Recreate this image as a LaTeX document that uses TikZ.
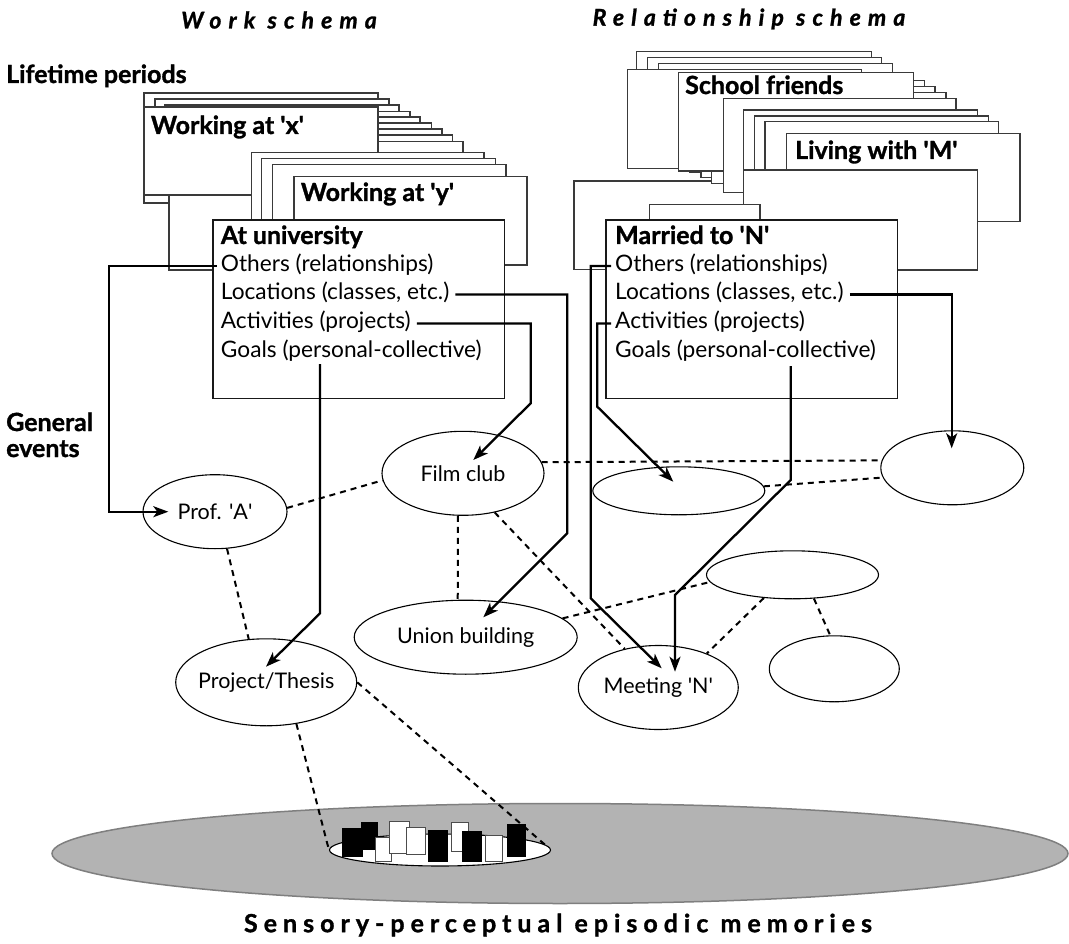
\documentclass[tikz,border=0pt]{standalone}
\usepackage{fontspec}
\setmainfont{Lato}[BoldFeatures={FakeBold=1.2},BoldItalicFeatures={FakeBold=1.2}]
\usetikzlibrary{shapes.geometric,arrows.meta}
\definecolor{cardline}{HTML}{3A3A3A}
\definecolor{greyfill}{HTML}{B3B3B3}
\definecolor{greyline}{HTML}{7F7F7F}
\newcommand{\apo}{\textquotesingle}
\begin{document}
\begin{tikzpicture}[x=1pt,y=-1pt,
  card/.style={draw=cardline,fill=white,line width=1.2pt},
  mainbox/.style={draw=black!90,fill=white,line width=1.6pt},
  ev/.style={ellipse,draw=black,line width=1.1pt,inner sep=0pt},
  evl/.style={font=\fontsize{21.5}{24}\selectfont,inner sep=0pt},
  ln/.style={anchor=west,inner sep=0pt,text height=16pt,text depth=5pt,font=\fontsize{22.7}{26}\selectfont},
  ttl/.style={anchor=west,inner sep=0pt,text height=17pt,text depth=5pt,font=\fontsize{25}{28}\selectfont\bfseries},
  conn/.style={line width=2.3pt,-{Stealth[length=15pt,width=11pt,inset=4pt]}},
  dsh/.style={line width=2pt,dash pattern=on 6pt off 5pt},
  hdr/.style={inner sep=0pt,font=\fontsize{23}{26}\selectfont\bfseries\itshape\addfontfeature{LetterSpace=31}},
  btm/.style={inner sep=0pt,font=\fontsize{25}{28}\selectfont\bfseries\addfontfeature{LetterSpace=24}},
  bar/.style={line width=1pt},
]
\useasboundingbox (0,0) rectangle (1069,944);
\fill[white] (0,0) rectangle (1069,944);

% ---------- left stack (work schema) ----------
\draw[card] (144,93) rectangle (378,203);
\draw[card] (155,99) rectangle (389,194);
\draw[card] (165,105) rectangle (399,194);
\foreach \r/\t/\l in {410/111.7/175, 420/117/180, 431.7/123/185, 442/129/190, 452.7/135/195, 463/141.7/200}
  \draw[card] (\l,\t) rectangle (\r,190);
\draw[card] (169,160) rectangle (400,270);
\draw[card] (144,107) rectangle (378,195);
\draw[card] (251.7,152.7) rectangle (484,250);
\draw[card] (261.7,158.3) rectangle (495.7,250);
\draw[card] (272.7,164.3) rectangle (506,250);
\draw[card] (294,176.7) rectangle (527,265);
\draw[mainbox] (212.7,220) rectangle (504.3,398.3);

\node[ttl] (wx) at (150.7,128) {Working at \apo x\apo};
\node[ttl] (wy) at (300.7,195) {Working at \apo y\apo};
\node[ttl] (uni) at (220.7,238) {At university};
\node[ln] (uOth) at (220.7,266) {Others (relationships)};
\node[ln] (uLoc) at (220.7,294.5) {Locations (classes, etc.)};
\node[ln] (uAct) at (220.7,323.5) {Activities (projects)};
\node[ln] (uGoal) at (220.7,352) {Goals (personal-collective)};

% ---------- right stack (relationship schema) ----------
\draw[card] (636.7,51.7) rectangle (871.7,160);
\draw[card] (647.3,57.3) rectangle (881.7,160);
\draw[card] (658.3,63.3) rectangle (892.3,160);
\draw[card] (627.7,69.3) rectangle (861.7,168.3);
\draw[card] (574,181) rectangle (800,269.3);
\draw[card] (690,80.7) rectangle (924.3,172.7);
\draw[card] (701,86.7) rectangle (935,177.3);
\draw[card] (711.7,92.7) rectangle (946,183.3);
\draw[card] (678.3,72.3) rectangle (913.3,171);
\draw[card] (723.3,98.3) rectangle (956,192.7);
\draw[card] (743.3,110) rectangle (977.7,200);
\draw[card] (754.3,116) rectangle (988.3,200);
\draw[card] (765,121.7) rectangle (998.3,200);
\draw[card] (786.7,133.3) rectangle (1020,221.7);
\draw[card] (743.3,170) rectangle (977.7,270);
\draw[card] (649.3,204.3) rectangle (760,300);
\draw[mainbox] (605.7,220) rectangle (897.3,398.3);

\node[ttl] (sf) at (685,88) {School friends};
\node[ttl] (lm) at (795,153) {Living with \apo M\apo};
\node[ttl] (mar) at (615,238) {Married to \apo N\apo};
\node[ln] (mOth) at (615,266) {Others (relationships)};
\node[ln] (mLoc) at (615,294.5) {Locations (classes, etc.)};
\node[ln] (mAct) at (615,323.5) {Activities (projects)};
\node[ln] (mGoal) at (615,352) {Goals (personal-collective)};

% ---------- headings ----------
\node[hdr] (hw) at (279,20) {Work schema};
\node[hdr] (hr) at (749,19) {Relationship schema};
\node[ttl] (lp) at (6,77) {Lifetime periods};
\node[ttl] (ge1) at (6,425) {General};
\node[ttl] (ge2) at (6,451) {events};

% ---------- sensory-perceptual memories ----------
\node[ellipse,draw=greyline,fill=greyfill,line width=1.5pt,inner sep=0pt,minimum width=1016pt,minimum height=100pt] (grey) at (560,853.5) {};
\node[ellipse,draw=black,fill=white,line width=1.1pt,inner sep=0pt,minimum width=221pt,minimum height=32pt] (small) at (440,850) {};
\draw[bar,fill=black,draw=black] (342.3,828.3) rectangle (362.3,856);
\draw[bar,fill=black,draw=black] (361,822.3) rectangle (377.3,849.3);
\draw[bar,fill=white,draw=black!70] (375.7,837.3) rectangle (391.7,861.7);
\draw[bar,fill=white,draw=black!70] (389.3,821) rectangle (409,853.3);
\draw[bar,fill=white,draw=black!70] (406.7,827.7) rectangle (425.3,854.3);
\draw[bar,fill=black,draw=black] (428,830) rectangle (447.7,861);
\draw[bar,fill=white,draw=black!70] (451.7,822.7) rectangle (468.3,851.7);
\draw[bar,fill=black,draw=black] (462,831) rectangle (481,861);
\draw[bar,fill=white,draw=black!70] (485,835) rectangle (502.3,861.7);
\draw[bar,fill=black,draw=black] (507.3,824) rectangle (525.7,856);
\node[btm] (sens) at (558,925) {Sensory-perceptual episodic memories};

% ---------- general events ----------
\node[ev,minimum width=144pt,minimum height=74pt] (profA) at (215,511.7) {};
\node[ev,minimum width=162pt,minimum height=84pt] (film) at (463,473.3) {};
\node[ev,minimum width=223pt,minimum height=74pt] (union) at (465.7,637.2) {};
\node[ev,minimum width=181pt,minimum height=87pt] (project) at (266.2,682.3) {};
\node[ev,minimum width=160pt,minimum height=84pt] (meeting) at (658.3,687.5) {};
\node[ev,minimum width=172pt,minimum height=48pt] (e2) at (678.8,490.8) {};
\node[ev,minimum width=143pt,minimum height=74pt] (e3) at (952.3,467.8) {};
\node[ev,minimum width=172pt,minimum height=48pt] (e4) at (792.5,574.8) {};
\node[ev,minimum width=130pt,minimum height=66pt] (e5) at (834.3,668.8) {};
\node[evl] at (profA) {Prof. \apo A\apo};
\node[evl] at (film) {Film club};
\node[evl] at (union) {Union building};
\node[evl] at (project) {Project/Thesis};
\node[evl] at (meeting) {Meeting \apo N\apo};

% ---------- dashed associations ----------
\draw[dsh] (profA.3) -- (film.185);
\draw[dsh] (film.8) -- (e3.174);
\draw[dsh] (e2.3) -- (e3.188);
\draw[dsh] (film.263) -- (union.102);
\draw[dsh] (film.309) -- (meeting.131);
\draw[dsh] (union.11) -- (e4.185);
\draw[dsh] (e4.219) -- (meeting.35);
\draw[dsh] (e4.312) -- (e5.97);
\draw[dsh] (profA.288) -- (project.112);
\draw[dsh] (project.0) -- (small.3);
\draw[dsh] (project.306) -- (small.180);

% ---------- connectors ----------
\coordinate (tProf) at (168.3,511.7);
\coordinate (tUnion) at (483.3,617.3);
\coordinate (tFilm) at (473.3,460);
\coordinate (sGoalL) at (320,364);
\coordinate (tProj) at (266,666.7);
\coordinate (tMeet1) at (661.7,668.3);
\coordinate (tE2) at (673.3,481.7);
\coordinate (tE3) at (951.7,448.3);
\coordinate (sGoalR) at (790.7,366);
\coordinate (tMeet2) at (675,671.7);

\draw[conn] ([xshift=-4pt]uOth.west) -| (109.3,511.7) -- (tProf);
\draw[conn] ([xshift=6pt]uLoc.east) -| (567.3,533.3) -- (tUnion);
\draw[conn] ([xshift=6pt]uAct.east) -| (530.7,403.3) -- (tFilm);
\draw[conn] (sGoalL) -- (320,613.3) -- (tProj);
\draw[conn] ([xshift=-4pt]mOth.west) -| (590.7,598.3) -- (tMeet1);
\draw[conn] ([xshift=-4pt]mAct.west) -| (597.3,406.7) -- (tE2);
\draw[conn] ([xshift=6pt]mLoc.east) -| (tE3);
\draw[conn] (sGoalR) -- (790.7,480) -- (675,595) -- (tMeet2);
\end{tikzpicture}
\end{document}
